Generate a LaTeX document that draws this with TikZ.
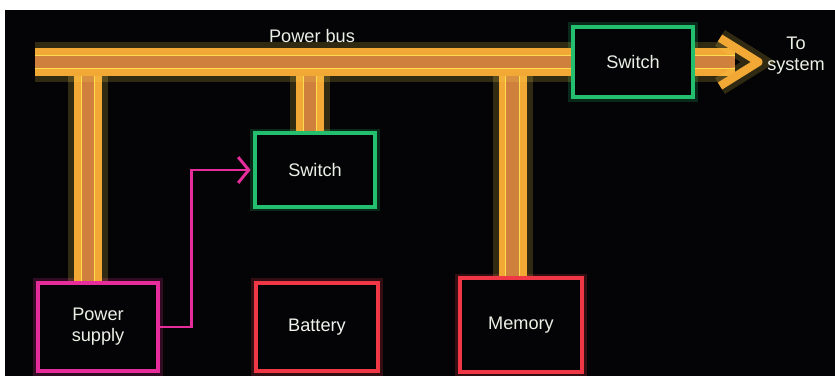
\documentclass[tikz,border=0pt]{standalone}
\usepackage{fontspec}
\setmainfont{Liberation Sans}
\usetikzlibrary{positioning, arrows.meta, calc}
\definecolor{panelbg}{RGB}{4, 4, 6}
\definecolor{busorange}{RGB}{242, 168, 52}
\definecolor{busyellow}{RGB}{255, 220, 80}
\definecolor{buscore}{RGB}{206, 128, 60}
\definecolor{switchgreen}{RGB}{35, 190, 110}
\definecolor{supplypink}{RGB}{230, 45, 155}
\definecolor{storered}{RGB}{240, 55, 70}
\definecolor{labeltext}{RGB}{235, 240, 230}

\begin{document}
\begin{tikzpicture}[x=0.03cm, y=-0.03cm,
    box/.style={draw=#1, line width=3.5pt, fill=panelbg, text=labeltext,
        font=\fontsize{15.5}{18}\selectfont, align=center,
        minimum width=3.6cm, minimum height=2.65cm,
        preaction={draw=#1, line width=8pt, opacity=.2}},
    tube/.style={draw=busorange, line width=24pt,
        preaction={draw=busyellow, line width=34pt, opacity=.18},
        postaction={draw=busyellow, line width=0.8pt, double=buscore, double distance=11pt}},
    feed/.style={draw=supplypink, line width=2.2pt}]
    \fill[white] (0,0) rectangle (835,387);
    \fill[panelbg] (5,10) rectangle (835,376);

    % Switches and loads
    \node[box=switchgreen, minimum height=2.1cm] (swout) at (633,62) {Switch};
    \node[box=switchgreen, minimum height=2.2cm] (swbat) at (315,170) {Switch};
    \node[box=supplypink] (psu) at (98,327) {Power\\supply};
    \node[box=storered, minimum width=3.65cm, text=labeltext!75] (bat) at (317,327) {Battery};
    \node[box=storered, minimum width=3.65cm, minimum height=2.8cm] (mem) at (521,325) {Memory};

    % Bus ends
    \coordinate (busend) at (35,62);
    \coordinate (systip) at (735,62);

    % Drops to the bus
    \draw[tube] ([xshift=-0.3cm]psu.north) -- ([xshift=-0.3cm]psu.north |- busend);
    \draw[tube] ([xshift=-0.15cm]swbat.north) -- ([xshift=-0.15cm]swbat.north |- busend);
    \draw[tube] ([xshift=-0.25cm]mem.north) -- ([xshift=-0.25cm]mem.north |- busend);

    % Power bus
    \draw[tube] (busend) -- (swout.west);
    \node[text=labeltext, font=\fontsize{15.5}{18}\selectfont] (buslabel) at (312,36) {Power bus};

    % Output to system
    \draw[tube] (swout.east) -- (systip);
    \draw[busorange, line width=7pt, line join=round,
        preaction={draw=busyellow, line width=16pt, opacity=.18}]
        ([shift={(-15,-24)}]systip) -- ([xshift=20]systip) -- ([shift={(-15,24)}]systip);
    \node[text=labeltext, font=\fontsize{15.5}{18}\selectfont, align=center] (syslabel) at (796,56) {To\\system};

    % Supply to switch
    \draw[feed, -{Straight Barb[length=9pt, width=22pt, line width=2.5pt]}, shorten >=2pt]
        (psu.east) -| ([xshift=-1.85cm]swbat.west) -- (swbat.west);
\end{tikzpicture}
\end{document}
